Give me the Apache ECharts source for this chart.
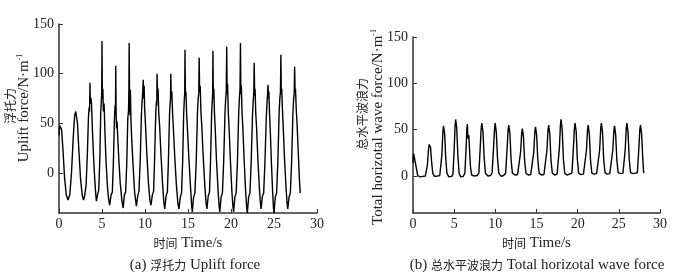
<!DOCTYPE html>
<html>
<head>
<meta charset="utf-8">
<script src="https://cdn.jsdelivr.net/npm/echarts@6/dist/echarts.min.js"></script>
<style>
  html, body { margin: 0; padding: 0; background: #fff; }
  #chart { width: 700px; height: 272px; }
</style>
</head>
<body>
<div id="chart"></div>
<script>
// 浮托力 (t, N/m)
var upliftData = [
  [0, 38], [0.08, 48], [0.18, 50], [0.3, 44], [0.45, 25], [0.65, -5], [0.85, -22], [1.05, -27],
  [1.25, -22], [1.45, 0], [1.65, 35], [1.82, 58], [1.95, 62], [2.05, 60], [2.15, 50], [2.3, 25],
  [2.5, -5], [2.7, -22], [2.85, -27], [3.0, -22], [3.15, -12], [3.3, 20], [3.42, 55], [3.5, 66],
  [3.55, 62], [3.6, 91], [3.64, 70], [3.7, 76], [3.78, 70], [3.88, 45], [4.0, 20], [4.15, -5],
  [4.3, -24], [4.35, -28],
  [4.5, -21], [4.62, -17], [4.75, 15], [4.85, 60], [4.92, 72], [4.97, 80], [5.0, 133], [5.04, 75],
  [5.1, 85], [5.16, 62], [5.24, 70], [5.33, 45], [5.45, 15], [5.62, -12], [5.78, -27], [5.9, -32],
  [6.05, -22], [6.2, -19], [6.32, 10], [6.45, 55], [6.52, 68], [6.57, 62], [6.6, 108], [6.64, 60],
  [6.7, 45], [6.75, 52], [6.82, 38], [6.95, 15], [7.12, -10], [7.32, -28], [7.46, -35],
  [7.6, -22], [7.75, -19], [7.88, 10], [8.0, 55], [8.08, 62], [8.13, 85], [8.16, 131], [8.2, 80],
  [8.26, 58], [8.3, 84], [8.36, 55], [8.45, 35], [8.6, 10], [8.8, -20], [9.0, -33],
  [9.15, -23], [9.3, -18], [9.45, 15], [9.58, 58], [9.65, 70], [9.72, 80], [9.8, 94], [9.85, 75],
  [9.9, 88], [9.96, 65], [10.05, 50], [10.2, 22], [10.4, -10], [10.58, -28], [10.7, -32],
  [10.85, -22], [11.0, -18], [11.12, 15], [11.25, 60], [11.32, 72], [11.37, 68], [11.4, 100], [11.45, 80],
  [11.52, 85], [11.6, 60], [11.7, 48], [11.85, 20], [12.05, -12], [12.2, -30], [12.3, -36],
  [12.45, -23], [12.6, -19], [12.72, 12], [12.85, 58], [12.92, 70], [12.97, 75], [13.0, 100], [13.05, 78],
  [13.12, 82], [13.2, 62], [13.3, 45], [13.45, 18], [13.65, -12], [13.82, -30], [13.95, -36],
  [14.1, -24], [14.25, -20], [14.38, 12], [14.5, 60], [14.57, 74], [14.62, 80], [14.65, 124], [14.7, 78],
  [14.76, 82], [14.84, 60], [14.95, 42], [15.1, 15], [15.3, -15], [15.42, -32], [15.5, -39],
  [15.65, -24], [15.8, -20], [15.95, 10], [16.1, 60], [16.18, 75], [16.25, 80], [16.3, 116], [16.35, 82],
  [16.42, 88], [16.5, 62], [16.6, 48], [16.75, 20], [16.95, -12], [17.1, -30], [17.2, -36],
  [17.35, -23], [17.5, -19], [17.62, 12], [17.75, 60], [17.82, 72], [17.87, 80], [17.9, 123], [17.95, 75],
  [18.0, 85], [18.08, 60], [18.18, 42], [18.3, 15], [18.5, -18], [18.62, -33], [18.7, -39],
  [18.85, -24], [19.0, -20], [19.15, 12], [19.3, 60], [19.38, 75], [19.45, 82], [19.5, 127], [19.55, 80],
  [19.6, 90], [19.68, 62], [19.78, 45], [19.92, 15], [20.1, -18], [20.22, -33], [20.3, -39],
  [20.45, -24], [20.6, -20], [20.75, 12], [20.9, 62], [20.98, 76], [21.05, 85], [21.1, 131], [21.15, 80],
  [21.2, 88], [21.28, 62], [21.38, 45], [21.52, 15], [21.7, -18], [21.82, -34], [21.9, -40],
  [22.05, -24], [22.2, -20], [22.35, 12], [22.5, 58], [22.58, 72], [22.65, 80], [22.7, 111], [22.75, 78],
  [22.8, 85], [22.88, 60], [22.98, 45], [23.12, 15], [23.3, -15], [23.42, -30], [23.5, -36],
  [23.65, -23], [23.8, -20], [23.95, 12], [24.1, 55], [24.18, 70], [24.24, 78], [24.3, 89], [24.35, 75],
  [24.4, 82], [24.48, 60], [24.58, 40], [24.7, 10], [24.85, -20], [24.93, -34], [25.0, -40],
  [25.15, -24], [25.3, -20], [25.45, 12], [25.6, 62], [25.68, 75], [25.75, 82], [25.8, 119], [25.85, 80],
  [25.9, 85], [25.98, 64], [26.08, 45], [26.22, 15], [26.4, -15], [26.52, -30], [26.6, -36],
  [26.75, -24], [26.9, -20], [27.05, 12], [27.2, 60], [27.28, 75], [27.35, 80], [27.4, 107], [27.45, 82],
  [27.5, 85], [27.58, 65], [27.68, 50], [27.8, 25], [27.95, -5], [28.05, -20]
];

// 总水平波浪力 (t, N/m)
var horizData = [
  [0, 14], [0.08, 24], [0.18, 26], [0.28, 22], [0.42, 8], [0.58, 0], [0.9, -1], [1.2, -0.5], [1.5, 0],
  [1.6, 1], [1.75, 12], [1.88, 28], [1.97, 34], [2.05, 35], [2.13, 31], [2.25, 16], [2.4, 3], [2.6, -0.5], [3.0, 0], [3.25, 0.5],
  [3.35, 2], [3.5, 22], [3.62, 46], [3.7, 54], [3.76, 55], [3.84, 46], [3.97, 20], [4.12, 3], [4.35, -1], [4.7, -0.5],
  [4.85, 2], [5.0, 28], [5.1, 52], [5.18, 61], [5.23, 62], [5.31, 52], [5.45, 22], [5.6, 3], [5.8, -1], [6.1, -0.5], [6.25, 0],
  [6.3, 3], [6.45, 30], [6.55, 52], [6.6, 56], [6.66, 44], [6.72, 40], [6.78, 44], [6.86, 30], [6.98, 10], [7.12, 1], [7.4, 0], [7.8, 0.5],
  [8.0, 3], [8.15, 28], [8.27, 50], [8.36, 57], [8.42, 58], [8.5, 48], [8.64, 20], [8.8, 3], [9.1, 0], [9.4, 0.5],
  [9.6, 3], [9.77, 28], [9.9, 50], [9.98, 57], [10.04, 56], [10.12, 47], [10.26, 20], [10.42, 3], [10.7, -0.5], [11.0, 0.5],
  [11.25, 3], [11.42, 28], [11.55, 50], [11.63, 55], [11.69, 56], [11.77, 46], [11.91, 18], [12.07, 3], [12.4, 1], [12.7, 1.5],
  [12.9, 3], [13.07, 26], [13.2, 46], [13.28, 51], [13.34, 50], [13.42, 42], [13.56, 16], [13.72, 3], [14.0, 1], [14.3, 1.5],
  [14.5, 3], [14.67, 26], [14.8, 48], [14.88, 53], [14.94, 52], [15.02, 44], [15.16, 17], [15.32, 3], [15.6, 1], [15.9, 1.5],
  [16.1, 3], [16.27, 28], [16.4, 50], [16.48, 55], [16.54, 54], [16.62, 45], [16.76, 17], [16.92, 3], [17.2, 1], [17.5, 2],
  [17.62, 3], [17.78, 30], [17.9, 54], [17.98, 61], [18.04, 62], [18.12, 50], [18.27, 18], [18.43, 3], [18.7, 1], [19.0, 2],
  [19.3, 3], [19.47, 28], [19.6, 51], [19.68, 57], [19.74, 58], [19.82, 48], [19.96, 18], [20.12, 3], [20.4, 1.5], [20.7, 2],
  [20.9, 3], [21.07, 28], [21.2, 50], [21.28, 55], [21.34, 54], [21.42, 45], [21.56, 17], [21.72, 3], [22.0, 2], [22.3, 2.5],
  [22.5, 3.5], [22.67, 28], [22.8, 51], [22.88, 57], [22.94, 56], [23.02, 47], [23.16, 18], [23.32, 3.5], [23.6, 2], [23.9, 2.5],
  [24.1, 3.5], [24.27, 28], [24.4, 49], [24.48, 54], [24.54, 53], [24.62, 44], [24.76, 17], [24.92, 3.5], [25.2, 2.5], [25.5, 3],
  [25.6, 3.5], [25.77, 28], [25.9, 51], [25.98, 57], [26.04, 56], [26.12, 47], [26.26, 18], [26.42, 3.5], [26.7, 2.5], [27.0, 3],
  [27.25, 3.5], [27.42, 28], [27.55, 50], [27.63, 55], [27.69, 54], [27.77, 45], [27.9, 20], [28.0, 5], [28.05, 3]
];

var yTickValues = [0, 50, 100, 150];
var xName = '{c|时间} Time/s';
var titleA = '(a) {c|浮托力} Uplift force';
var titleB = '(b) {c|总水平波浪力} Total horizotal wave force';
var yNameA = ['{c|浮托力}', 'Uplift force/N·m{s|-1}'];
var yNameB = ['{c|总水平波浪力}', 'Total horizotal wave force/N·m{s|-1}'];

var FONT = '"Liberation Serif", "Noto Sans CJK SC", serif';
var CJK = '"Noto Sans CJK SC", sans-serif';
var TXT = '#222';
var RICH = {
  c: { fontFamily: CJK, fontSize: 12, fill: TXT, color: TXT },
  s: { fontFamily: FONT, fontSize: 8, verticalAlign: 'top', padding: [0, 0, 8, 0], fill: TXT, color: TXT }
};

function makeX(idx) {
  return {
    gridIndex: idx, type: 'value', min: 0, max: 30, interval: 5,
    name: xName, nameLocation: 'middle', nameGap: 21,
    nameTextStyle: { fontFamily: FONT, fontSize: 15, color: TXT, rich: RICH },
    axisLine: { onZero: false, lineStyle: { color: '#333', width: 1.5 } },
    axisTick: { inside: true, length: 4, lineStyle: { color: '#333' } },
    axisLabel: { fontFamily: FONT, fontSize: 14, color: TXT, margin: 4 },
    splitLine: { show: false }
  };
}

function makeY(idx) {
  return {
    gridIndex: idx, type: 'value', min: -40, max: 150,
    axisLine: { show: true, onZero: false, lineStyle: { color: '#333', width: 1.5 } },
    axisTick: { show: true, inside: true, length: 4, customValues: yTickValues, lineStyle: { color: '#333' } },
    axisLabel: { fontFamily: FONT, fontSize: 14, color: TXT, margin: 5, customValues: yTickValues },
    splitLine: { show: false }
  };
}

function label(text, x, y, rot) {
  return {
    type: 'text', x: x, y: y, rotation: rot || 0,
    style: { text: text, fontFamily: FONT, fontSize: 15, fill: TXT, align: 'center', verticalAlign: 'middle', rich: RICH }
  };
}

var chart = echarts.init(document.getElementById('chart'));
chart.setOption({
  animation: false,
  backgroundColor: '#fff',
  grid: [
    { left: 59, top: 24, width: 258, height: 189 },
    { left: 413, top: 37, width: 247, height: 176 }
  ],
  xAxis: [makeX(0), makeX(1)],
  yAxis: [makeY(0), makeY(1)],
  series: [
    { type: 'line', xAxisIndex: 0, yAxisIndex: 0, data: upliftData, symbol: 'none',
      lineStyle: { color: '#000', width: 1.4 } },
    { type: 'line', xAxisIndex: 1, yAxisIndex: 1, data: horizData, symbol: 'none',
      lineStyle: { color: '#000', width: 1.4 } }
  ],
  graphic: [
    label(titleA, 195, 265),
    label(titleB, 537, 265),
    label(yNameA[0], 10, 106, Math.PI / 2),
    label(yNameA[1], 24, 108, Math.PI / 2),
    label(yNameB[0], 362, 114, Math.PI / 2),
    label(yNameB[1], 378, 127, Math.PI / 2)
  ]
});
</script>
</body>
</html>
